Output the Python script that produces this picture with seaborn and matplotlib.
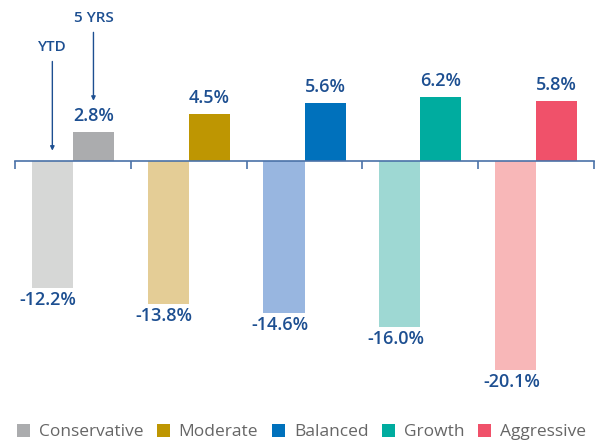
import matplotlib
matplotlib.use("Agg")
import matplotlib.pyplot as plt
import seaborn as sns
import pandas as pd
from matplotlib.patches import Patch

# 데이터
categories = ["Conservative", "Moderate", "Balanced", "Growth", "Aggressive"]
ytd = [-12.2, -13.8, -14.6, -16.0, -20.1]
five_yrs = [2.8, 4.5, 5.6, 6.2, 5.8]
ytd_colors = ["#d6d7d6", "#e4cd96", "#98b6e0", "#9ed8d3", "#f8b7b8"]
five_colors = ["#abacae", "#be9602", "#0071bc", "#00ac9f", "#f0516a"]
text_blue = "#1d4f91"

df = pd.DataFrame({
    "category": categories * 2,
    "period": ["YTD"] * 5 + ["5 YRS"] * 5,
    "value": ytd + five_yrs,
})

sns.set_style("white")
plt.rcParams['font.family'] = ['Open Sans', 'DejaVu Sans']

fig = plt.figure(figsize=(5.97, 4.42), dpi=100)
ax = fig.add_axes([15 / 597, 42 / 442, 579 / 597, 400 / 442])

sns.barplot(data=df, x="category", y="value", hue="period", hue_order=["YTD", "5 YRS"],
            order=categories, width=0.71, gap=0, dodge=True, legend=False, ax=ax)

# 색상 지정
for bar, c in zip(ax.containers[0], ytd_colors):
    bar.set_facecolor(c)
    bar.set_edgecolor("none")
for bar, c in zip(ax.containers[1], five_colors):
    bar.set_facecolor(c)
    bar.set_edgecolor("none")

# 값 라벨
for cont in ax.containers:
    for bar in cont:
        v = bar.get_height()
        xc = bar.get_x() + bar.get_width() / 2
        if v >= 0:
            ax.annotate(f"{v:.1f}%", (xc, v), xytext=(0, 5), textcoords="offset points",
                        ha="center", va="bottom", fontsize=13, fontweight="semibold", color=text_blue)
        else:
            ax.annotate(f"{v:.1f}%", (xc, v), xytext=(-3, -2), textcoords="offset points",
                        ha="center", va="top", fontsize=13, fontweight="semibold", color=text_blue)

ax.set_xlim(-0.5, 4.5)
ax.set_ylim(-23, 15.5)

# 축
for s in ["top", "right", "left"]:
    ax.spines[s].set_visible(False)
ax.spines["bottom"].set_position(("data", 0))
ax.spines["bottom"].set_color("#4a72a8")
ax.spines["bottom"].set_linewidth(1.2)
ax.set_xticks([-0.5, 0.5, 1.5, 2.5, 3.5, 4.5])
ax.set_xticklabels([])
ax.tick_params(axis="x", direction="out", length=6, width=1.2, color="#4a72a8", bottom=True)
ax.set_yticks([])
ax.set_xlabel("")
ax.set_ylabel("")

# YTD / 5 YRS 화살표
bw = 0.71 / 2
ax.annotate("YTD", xy=(-bw / 2, 1.0), xytext=(-bw / 2, 10.3), ha="center", va="bottom",
            fontsize=11, fontweight="semibold", color=text_blue,
            arrowprops=dict(arrowstyle="-|>", color=text_blue, lw=1, mutation_scale=6, shrinkA=3, shrinkB=0))
ax.annotate("5 YRS", xy=(bw / 2, 5.8), xytext=(bw / 2, 13.1), ha="center", va="bottom",
            fontsize=11, fontweight="semibold", color=text_blue,
            arrowprops=dict(arrowstyle="-|>", color=text_blue, lw=1, mutation_scale=6, shrinkA=3, shrinkB=0))

# 범례
handles = [Patch(facecolor=c, edgecolor="none") for c in five_colors]
fig.legend(handles, categories, loc="center", bbox_to_anchor=(0.505, 10 / 442), ncol=5,
           frameon=False, fontsize=12.5, handlelength=0.75, handleheight=0.75, handletextpad=0.5,
           columnspacing=0.8, labelcolor="#666666", borderaxespad=0, borderpad=0)

fig.savefig("out.png", dpi=100)
